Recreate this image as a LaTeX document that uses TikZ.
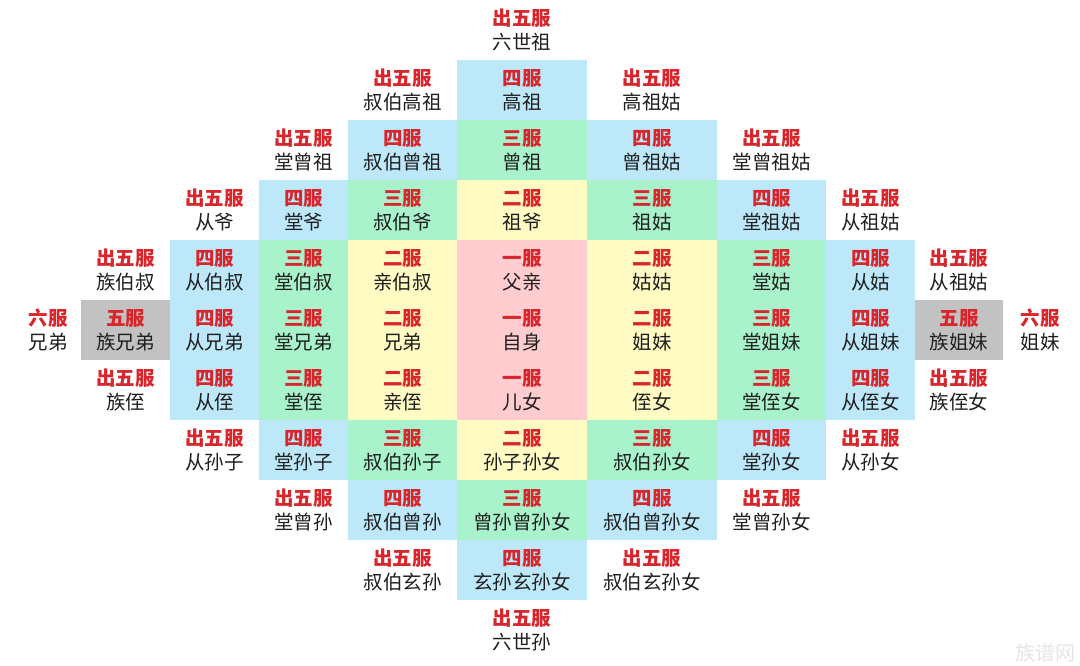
\documentclass[tikz,border=0pt]{standalone}
\usepackage{fontspec}
\newfontfamily\cjk{Noto Sans CJK SC}

\definecolor{fuyi}{HTML}{FFCCCF}
\definecolor{fuer}{HTML}{FFFBC2}
\definecolor{fusan}{HTML}{A8F3CB}
\definecolor{fusi}{HTML}{BDE8FA}
\definecolor{fuwu}{HTML}{C2C2C2}
\definecolor{fured}{HTML}{D8262C}

\tikzset{
  cell/.style={inner sep=0pt, minimum height=60pt, align=center,
    text=black!88, font=\cjk\fontsize{19.5}{24}\selectfont},
}
\newcommand{\fu}[1]{{\color{fured}\bfseries #1}}

\begin{document}
\begin{tikzpicture}[x=1pt,y=-1pt]
\useasboundingbox (0,0) rectangle (1080,665);

% one cell per relative: name/x/width/y/fill/grade/relative
\foreach \n/\x/\w/\y/\c/\g/\r in {
  liushizu/522/130/30/white/出五服/六世祖,
  shubogaozu/402.5/109/90/white/出五服/叔伯高祖,
  gaozu/522/130/90/fusi/四服/高祖,
  gaozugu/652/130/90/white/出五服/高祖姑,
  tangzengzu/303.5/89/150/white/出五服/堂曾祖,
  shubozengzu/402.5/109/150/fusi/四服/叔伯曾祖,
  zengzu/522/130/150/fusan/三服/曾祖,
  zengzugu/652/130/150/fusi/四服/曾祖姑,
  tangzengzugu/771.5/109/150/white/出五服/堂曾祖姑,
  congye/214.5/89/210/white/出五服/从爷,
  tangye/303.5/89/210/fusi/四服/堂爷,
  shuboye/402.5/109/210/fusan/三服/叔伯爷,
  zuye/522/130/210/fuer/二服/祖爷,
  zugu/652/130/210/fusan/三服/祖姑,
  tangzugu/771.5/109/210/fusi/四服/堂祖姑,
  congzugu/870.5/89/210/white/出五服/从祖姑,
  zubo/125.5/89/270/white/出五服/族伯叔,
  congbo/214.5/89/270/fusi/四服/从伯叔,
  tangbo/303.5/89/270/fusan/三服/堂伯叔,
  qinbo/402.5/109/270/fuer/二服/亲伯叔,
  fuqin/522/130/270/fuyi/一服/父亲,
  gugu/652/130/270/fuer/二服/姑姑,
  tanggu/771.5/109/270/fusan/三服/堂姑,
  conggu/870.5/89/270/fusi/四服/从姑,
  zuzugu/959/88/270/white/出五服/从祖姑,
  xiongliu/48/70/330/white/六服/兄弟,
  zuxiong/125.5/89/330/fuwu/五服/族兄弟,
  congxiong/214.5/89/330/fusi/四服/从兄弟,
  tangxiong/303.5/89/330/fusan/三服/堂兄弟,
  xiongdi/402.5/109/330/fuer/二服/兄弟,
  zishen/522/130/330/fuyi/一服/自身,
  jiemei/652/130/330/fuer/二服/姐妹,
  tangjie/771.5/109/330/fusan/三服/堂姐妹,
  congjie/870.5/89/330/fusi/四服/从姐妹,
  zujie/959/88/330/fuwu/五服/族姐妹,
  jieliu/1040/70/330/white/六服/姐妹,
  zuzhi/125.5/89/390/white/出五服/族侄,
  congzhi/214.5/89/390/fusi/四服/从侄,
  tangzhi/303.5/89/390/fusan/三服/堂侄,
  qinzhi/402.5/109/390/fuer/二服/亲侄,
  ernv/522/130/390/fuyi/一服/儿女,
  zhinv/652/130/390/fuer/二服/侄女,
  tangzhinv/771.5/109/390/fusan/三服/堂侄女,
  congzhinv/870.5/89/390/fusi/四服/从侄女,
  zuzhinv/959/88/390/white/出五服/族侄女,
  congsun/214.5/89/450/white/出五服/从孙子,
  tangsun/303.5/89/450/fusi/四服/堂孙子,
  shubosun/402.5/109/450/fusan/三服/叔伯孙子,
  sunzi/522/130/450/fuer/二服/孙子孙女,
  shubosunnv/652/130/450/fusan/三服/叔伯孙女,
  tangsunnv/771.5/109/450/fusi/四服/堂孙女,
  congsunnv/870.5/89/450/white/出五服/从孙女,
  tangzengsun/303.5/89/510/white/出五服/堂曾孙,
  shubozengsun/402.5/109/510/fusi/四服/叔伯曾孙,
  zengsun/522/130/510/fusan/三服/曾孙曾孙女,
  shubozengsunnv/652/130/510/fusi/四服/叔伯曾孙女,
  tangzengsunnv/771.5/109/510/white/出五服/堂曾孙女,
  shuboxuansun/402.5/109/570/white/出五服/叔伯玄孙,
  xuansun/522/130/570/fusi/四服/玄孙玄孙女,
  shuboxuansunnv/652/130/570/white/出五服/叔伯玄孙女,
  liushisun/522/130/630/white/出五服/六世孙}
  {\node[cell, fill=\c, minimum width=\w pt] (\n) at (\x,\y) {\fu{\g}\\\r};}

\node[text=black!10, font=\cjk\fontsize{20}{20}\selectfont] (mark) at (1045,653) {族谱网};

\end{tikzpicture}
\end{document}
